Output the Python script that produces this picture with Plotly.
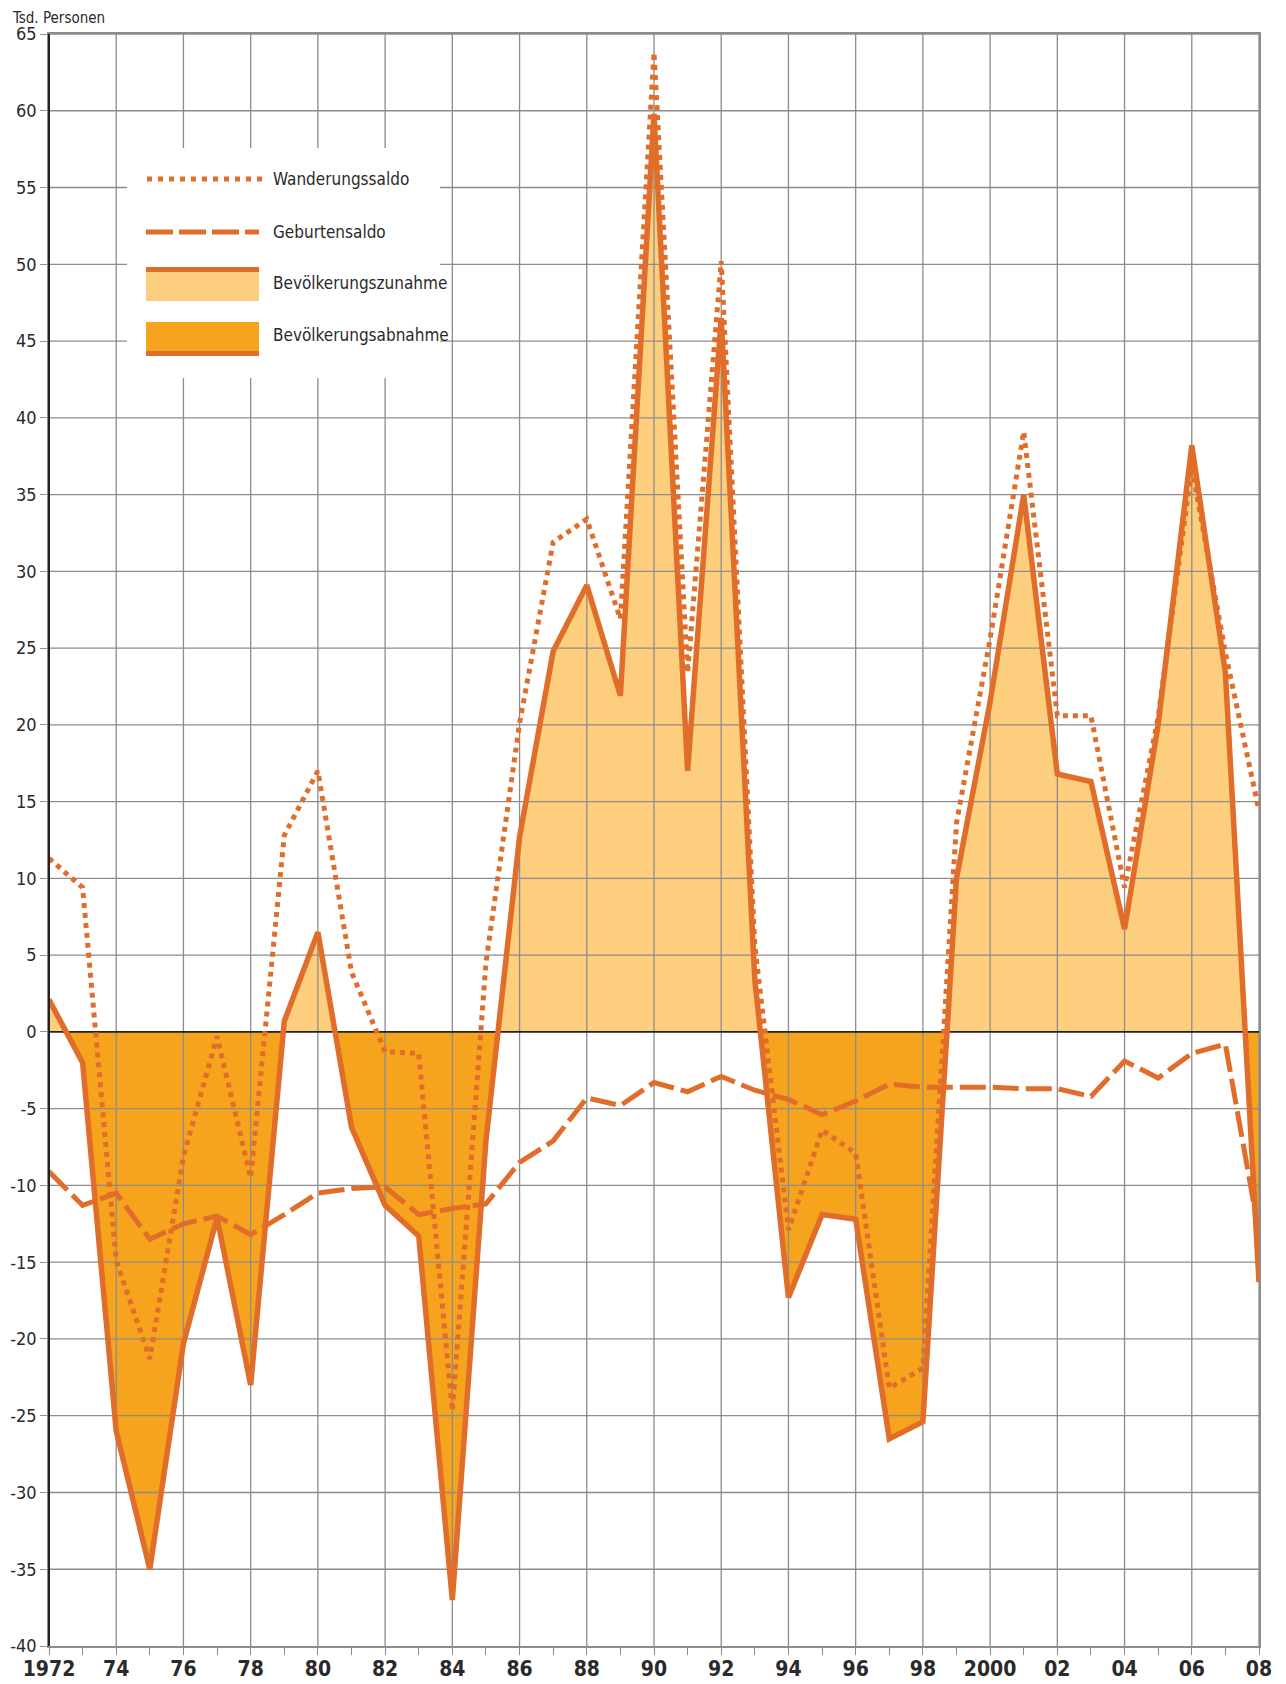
import plotly.graph_objects as go

# ---------------- data ----------------
years = list(range(1972, 2009))

# Bevölkerungszunahme / -abnahme (Saldo insgesamt), Tsd. Personen
bevoelkerung = [2.1, -2.0, -26.0, -35.0, -20.3, -12.1, -23.0, 0.7, 6.5, -6.2,
                -11.3, -13.3, -37.0, -7.1, 12.7, 24.8, 29.1, 21.9, 59.8, 17.0,
                46.5, 3.4, -17.3, -11.9, -12.2, -26.5, -25.4, 10.0, 21.5, 35.0,
                16.8, 16.3, 6.7, 20.0, 38.2, 23.4, -16.3]

# Wanderungssaldo
wanderung = [11.3, 9.4, -14.9, -21.3, -8.1, -0.3, -9.5, 12.8, 17.0, 3.9,
             -1.3, -1.4, -24.7, 4.5, 20.1, 31.9, 33.4, 26.9, 63.8, 23.4,
             50.2, 5.6, -12.9, -6.4, -7.9, -23.2, -21.9, 13.6, 25.6, 39.1,
             20.6, 20.6, 9.4, 20.5, 36.8, 24.7, 14.4]

# Geburtensaldo
geburten = [-9.1, -11.3, -10.5, -13.5, -12.5, -12.0, -13.2, -11.9, -10.5, -10.2,
            -10.1, -11.9, -11.5, -11.2, -8.5, -7.1, -4.3, -4.8, -3.3, -3.9,
            -2.9, -3.8, -4.4, -5.4, -4.5, -3.4, -3.6, -3.6, -3.6, -3.7,
            -3.7, -4.2, -1.9, -3.0, -1.4, -0.8, -13.1]

x_tick_labels = ["1972", "", "74", "", "76", "", "78", "", "80", "", "82", "", "84", "",
                 "86", "", "88", "", "90", "", "92", "", "94", "", "96", "", "98", "",
                 "2000", "", "02", "", "04", "", "06", "", "08"]
y_tick_values = [-40, -35, -30, -25, -20, -15, -10, -5, 0, 5, 10, 15, 20, 25, 30,
                 35, 40, 45, 50, 55, 60, 65]
y_tick_labels = ["-40", "-35", "-30", "-25", "-20", "-15", "-10", "-5", "0", "5", "10",
                 "15", "20", "25", "30", "35", "40", "45", "50", "55", "60", "65"]
grid_years = [1974, 1976, 1978, 1980, 1982, 1984, 1986, 1988, 1990, 1992, 1994, 1996,
              1998, 2000, 2002, 2004, 2006, 2008]

legend_labels = ["Wanderungssaldo", "Geburtensaldo", "Bevölkerungszunahme",
                 "Bevölkerungsabnahme"]

# ---------------- styles ----------------
LINE = "#E06E2A"
LIGHT = "#FDCE7E"
DARK = "#F6A41E"
GRID = "#8C8C8C"
TEXT = "#2A2A2A"
FONT = "DejaVu Sans Condensed, Liberation Sans Narrow, sans-serif"

# the page body adds an 8px margin around the figure
W, H = 1270, 1676
# plot area in page pixels: left 49, right 1259, top 34, bottom 1646
ML, MT = 41, 26
MR, MB = W - (1259 - 8), H - (1646 - 8)
PW, PH = W - ML - MR, H - MT - MB


def px(x):
    return (x - 49) / PW


def py(y):
    return (1646 - y) / PH


# split the net series at zero crossings so the two fill colours meet on the axis
fx, fy = [], []
for i in range(len(years)):
    if i > 0:
        y0, y1 = bevoelkerung[i - 1], bevoelkerung[i]
        if y0 * y1 < 0:
            t = y0 / (y0 - y1)
            fx.append(years[i - 1] + t * (years[i] - years[i - 1]))
            fy.append(0.0)
    fx.append(years[i])
    fy.append(bevoelkerung[i])
pos = [max(v, 0.0) for v in fy]
neg = [min(v, 0.0) for v in fy]

fig = go.Figure()
fig.add_trace(go.Scatter(x=fx, y=pos, mode="lines", line=dict(width=0, color=LIGHT),
                         fill="tozeroy", fillcolor=LIGHT, hoverinfo="skip"))
fig.add_trace(go.Scatter(x=fx, y=neg, mode="lines", line=dict(width=0, color=DARK),
                         fill="tozeroy", fillcolor=DARK, hoverinfo="skip"))

# gridlines drawn above the fills, below the data lines
gx, gy = [], []
for yr in grid_years:
    gx += [yr, yr, None]
    gy += [y_tick_values[0], y_tick_values[-1], None]
for v in y_tick_values[1:]:
    if v == 0:
        continue
    gx += [years[0], years[-1], None]
    gy += [v, v, None]
fig.add_trace(go.Scatter(x=gx, y=gy, mode="lines", line=dict(width=1.3, color=GRID),
                         hoverinfo="skip", connectgaps=False))
fig.add_trace(go.Scatter(x=[years[0], years[-1]], y=[0, 0], mode="lines",
                         line=dict(width=1.6, color="#222222"), hoverinfo="skip"))

fig.add_trace(go.Scatter(x=years, y=geburten, mode="lines", name=legend_labels[1],
                         line=dict(color=LINE, width=5, dash="26px,7px")))
fig.add_trace(go.Scatter(x=years, y=wanderung, mode="lines", name=legend_labels[0],
                         line=dict(color=LINE, width=5, dash="5px,5px")))
fig.add_trace(go.Scatter(x=years, y=bevoelkerung, mode="lines", name=legend_labels[2],
                         line=dict(color=LINE, width=5.5)))

# ---------------- custom legend ----------------
shapes = [
    dict(type="rect", xref="paper", yref="paper", x0=px(127), x1=px(440), y0=py(378), y1=py(148),
         fillcolor="white", line=dict(width=0), layer="above"),
    dict(type="line", xref="paper", yref="paper", x0=px(147), x1=px(262), y0=py(179), y1=py(179),
         line=dict(color=LINE, width=5, dash="5px,6px"), layer="above"),
    dict(type="line", xref="paper", yref="paper", x0=px(146), x1=px(259), y0=py(232), y1=py(232),
         line=dict(color=LINE, width=5, dash="27px,6px"), layer="above"),
    dict(type="rect", xref="paper", yref="paper", x0=px(146), x1=px(259), y0=py(301), y1=py(267),
         fillcolor=LIGHT, line=dict(width=0), layer="above"),
    dict(type="line", xref="paper", yref="paper", x0=px(146), x1=px(259), y0=py(269.5), y1=py(269.5),
         line=dict(color=LINE, width=5), layer="above"),
    dict(type="rect", xref="paper", yref="paper", x0=px(146), x1=px(259), y0=py(356), y1=py(322),
         fillcolor=DARK, line=dict(width=0), layer="above"),
    dict(type="line", xref="paper", yref="paper", x0=px(146), x1=px(259), y0=py(353.5), y1=py(353.5),
         line=dict(color=LINE, width=5), layer="above"),
    # dark left axis line
    dict(type="line", xref="paper", yref="paper", x0=0, x1=0, y0=0, y1=1,
         line=dict(color="#222222", width=2), layer="above"),
]

annotations = []
for lbl, yy in zip(legend_labels, [179, 232, 283, 335]):
    annotations.append(dict(xref="paper", yref="paper", x=px(271), y=py(yy), text=lbl,
                            showarrow=False, xanchor="left", yanchor="middle",
                            font=dict(family=FONT, size=17, color=TEXT)))
annotations.append(dict(xref="paper", yref="paper", x=px(11), y=py(8), text="Tsd. Personen",
                        showarrow=False, xanchor="left", yanchor="top", borderpad=0,
                        font=dict(family=FONT, size=15, color=TEXT)))

fig.update_layout(
    template="none",
    width=W, height=H,
    margin=dict(l=ML, r=MR, t=MT, b=MB, pad=0, autoexpand=False),
    paper_bgcolor="white", plot_bgcolor="white",
    showlegend=False,
    shapes=shapes, annotations=annotations,
    xaxis=dict(range=[years[0], years[-1]], tickmode="array", tickvals=years,
               ticktext=x_tick_labels, ticks="outside", ticklen=7, tickwidth=1.3,
               tickcolor=GRID, showgrid=False, zeroline=False, automargin=False,
               ticklabelstandoff=-4,
               showline=True, linecolor=GRID, linewidth=2, mirror=True,
               tickfont=dict(family=FONT, size=21, color=TEXT, weight="bold")),
    yaxis=dict(range=[y_tick_values[0], y_tick_values[-1]], tickmode="array",
               tickvals=y_tick_values, ticktext=y_tick_labels, ticks="outside",
               ticklen=7, tickwidth=1.3, tickcolor=GRID, showgrid=False, zeroline=False,
               automargin=False,
               showline=True, linecolor=GRID, linewidth=1.5, mirror=True,
               tickfont=dict(family=FONT, size=18, color=TEXT)),
)

fig.write_html("out.html")
